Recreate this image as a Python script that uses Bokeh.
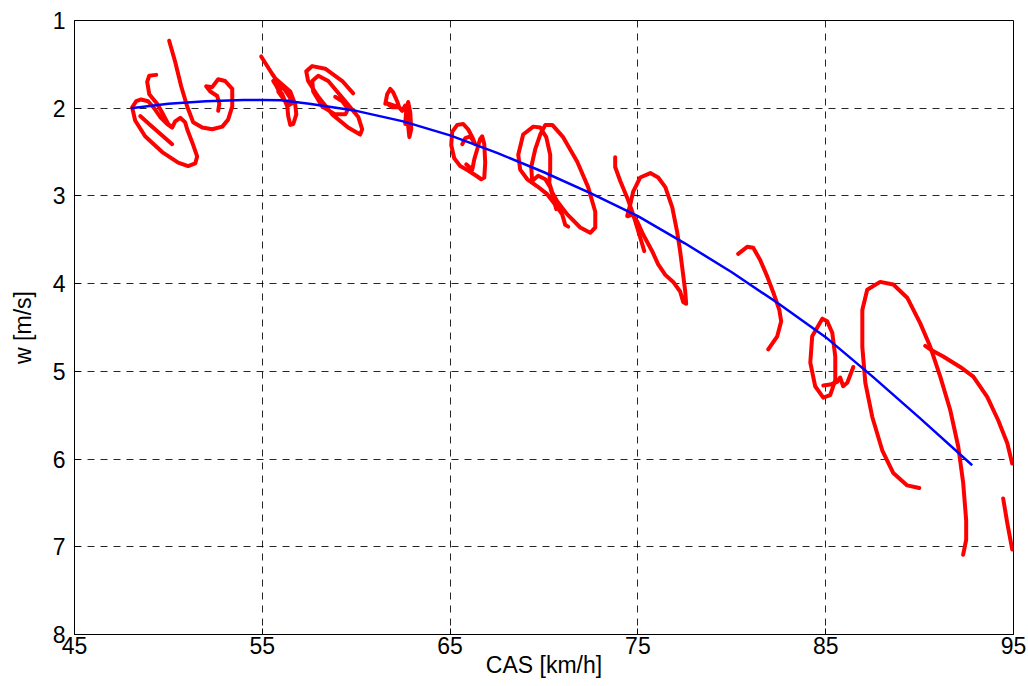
from bokeh.plotting import figure
from bokeh.models import Range1d, FixedTicker
from bokeh.embed import file_html
from bokeh.resources import INLINE

# ---------------- data ----------------
x_ticks = [45, 55, 65, 75, 85, 95]
y_ticks = [1, 2, 3, 4, 5, 6, 7, 8]

# fitted polar (blue)
polar_cas = [48.0, 50, 52, 54, 55, 56, 57.5, 60, 62.5, 65, 67.5, 70, 72.5, 75,
             77.5, 80, 82.5, 85, 87.5, 90, 92.8]
polar_w = [2.00, 1.95, 1.92, 1.905, 1.905, 1.91, 1.95, 2.03, 2.15, 2.31, 2.51,
           2.73, 2.97, 3.23, 3.54, 3.87, 4.23, 4.61, 5.06, 5.53, 6.07]

# measured flight data (red), one list per trace segment
seg1a_cas = [50.04, 50.36, 50.68, 51.00, 51.32, 51.80, 52.33, 52.87, 53.18, 53.40,
             53.40, 53.02, 52.65, 52.33, 52.01, 52.23, 52.60, 52.71, 52.65]
seg1a_w = [1.23, 1.47, 1.75, 1.98, 2.16, 2.22, 2.24, 2.21, 2.13, 1.98,
           1.78, 1.69, 1.67, 1.76, 1.75, 1.81, 1.86, 1.95, 2.03]

seg1b_cas = [49.35, 48.98, 48.87, 48.98, 49.40, 49.72, 49.99, 50.20, 50.36, 50.63,
             50.89, 51.00, 51.27, 51.53, 51.43, 51.05, 50.52, 49.67, 48.76, 48.23,
             48.07, 48.29, 48.55, 48.92, 49.24, 49.56, 49.94, 50.20]
seg1b_w = [1.62, 1.63, 1.70, 1.84, 1.95, 2.07, 2.18, 2.22, 2.15, 2.11,
           2.16, 2.24, 2.39, 2.55, 2.63, 2.66, 2.62, 2.50, 2.32, 2.14,
           1.99, 1.92, 1.90, 1.92, 2.00, 2.10, 2.18, 2.22]

seg1c_cas = [48.50, 49.03, 49.67, 50.20]
seg1c_w = [2.09, 2.19, 2.31, 2.41]

seg2a_cas = [54.94, 55.53, 55.79, 56.11, 56.49, 56.75, 56.81, 56.65, 56.49, 56.38,
             56.33, 56.06, 55.79, 55.58, 55.74, 56.49, 56.70, 56.38, 55.95, 55.74,
             56.16, 56.54, 56.27, 55.85]
seg2a_w = [1.41, 1.61, 1.69, 1.76, 1.84, 1.95, 2.07, 2.18, 2.19, 2.09,
           1.98, 1.84, 1.76, 1.69, 1.67, 1.81, 1.93, 1.97, 1.84, 1.74,
           1.78, 1.90, 1.94, 1.81]

seg2b_cas = [59.84, 59.26, 58.35, 57.66, 57.34, 57.44, 57.98, 58.72, 59.57, 60.21,
             60.32, 60.11, 59.42, 58.51, 57.98, 57.66, 57.71, 58.19, 58.88, 59.42,
             59.57, 59.26, 58.88]
seg2b_w = [1.83, 1.69, 1.55, 1.52, 1.58, 1.69, 1.87, 2.07, 2.22, 2.30,
           2.24, 2.10, 1.92, 1.69, 1.63, 1.69, 1.81, 1.98, 2.07, 2.07,
           2.01, 1.92, 1.87]

seg3_cas = [61.55, 61.65, 61.81, 61.97, 62.18, 62.29, 61.92, 61.60, 62.29, 62.45,
            62.61, 62.72, 62.77, 62.83, 62.93, 62.88, 62.77, 62.67, 62.61]
seg3_w = [1.95, 1.84, 1.78, 1.82, 1.92, 1.99, 1.99, 1.94, 1.99, 2.03,
          1.97, 2.05, 2.21, 2.33, 2.24, 2.05, 1.93, 2.01, 2.18]

seg4_cas = [65.86, 66.18, 66.29, 66.44, 66.60, 66.71, 66.82, 66.87, 66.82, 66.66,
            66.39, 65.96, 65.54, 65.22, 65.06, 65.11, 65.38, 65.70, 65.96, 66.18,
            66.34, 66.07, 65.81, 65.65]
seg4_w = [2.64, 2.70, 2.58, 2.47, 2.35, 2.32, 2.41, 2.62, 2.79, 2.81,
          2.77, 2.71, 2.66, 2.57, 2.42, 2.27, 2.19, 2.18, 2.24, 2.33,
          2.41, 2.32, 2.34, 2.41]

seg5_cas = [71.29, 71.13, 70.97, 70.60, 70.17, 69.64, 69.11, 68.73, 68.63, 68.89,
            69.43, 69.80, 70.12, 70.33, 70.33, 70.28, 70.44, 70.70, 71.24, 71.93,
            72.46, 72.73, 72.73, 72.35, 71.77, 71.02, 70.44, 70.07, 69.80, 69.53,
            69.32, 69.37, 69.69, 70.07, 70.33, 70.49, 70.65]
seg5_w = [3.35, 3.33, 3.21, 3.10, 2.98, 2.89, 2.81, 2.70, 2.53, 2.30,
          2.21, 2.22, 2.33, 2.53, 2.70, 2.85, 2.96, 3.06, 3.21, 3.36,
          3.42, 3.36, 3.18, 2.90, 2.61, 2.33, 2.19, 2.19, 2.30, 2.47,
          2.67, 2.83, 2.77, 2.81, 2.90, 3.02, 3.15]

seg6a_cas = [73.79, 73.79, 74.06, 74.43, 74.70, 74.96, 75.23, 75.34]
seg6a_w = [2.56, 2.67, 2.83, 3.02, 3.18, 3.36, 3.55, 3.63]

seg6b_cas = [74.43, 74.59, 74.75, 75.12, 75.66, 76.08, 76.46, 76.83, 77.09, 77.25,
             77.41, 77.52, 77.57, 77.41, 77.25, 76.88, 76.46, 76.08, 75.76, 75.28,
             74.96, 74.70, 74.48]
seg6b_w = [3.23, 3.10, 2.95, 2.79, 2.74, 2.79, 2.90, 3.13, 3.41, 3.63,
           3.90, 4.09, 4.23, 4.21, 4.09, 3.98, 3.90, 3.78, 3.63, 3.44,
           3.29, 3.21, 3.23]

seg7_cas = [80.34, 80.82, 81.14, 81.51, 81.89, 82.21, 82.53, 82.63, 82.42, 81.94]
seg7_w = [3.66, 3.58, 3.59, 3.73, 3.92, 4.10, 4.30, 4.43, 4.60, 4.75]

seg8a_cas = [84.82, 84.28, 84.18, 84.44, 84.87, 85.24, 85.51, 85.51, 85.35, 85.08, 84.82]
seg8a_w = [4.40, 4.60, 4.90, 5.17, 5.30, 5.27, 5.10, 4.83, 4.56, 4.43, 4.40]

seg8b_cas = [84.87, 85.24, 85.61, 85.77, 85.93, 86.15, 86.47]
seg8b_w = [5.16, 5.15, 5.12, 5.07, 5.17, 5.13, 4.95]

seg9a_cas = [89.98, 89.34, 88.60, 88.01, 87.48, 87.11, 86.95, 86.95, 87.21, 87.90,
             88.60, 89.34, 90.03, 90.57, 91.10, 91.63, 92.06, 92.32, 92.48, 92.48, 92.32]
seg9a_w = [6.33, 6.30, 6.16, 5.90, 5.52, 5.13, 4.72, 4.30, 4.07, 3.98,
           4.01, 4.16, 4.45, 4.72, 5.06, 5.44, 5.86, 6.27, 6.70, 6.92, 7.09]

seg9b_cas = [90.30, 90.57, 91.26, 92.16, 92.86, 93.60, 94.19, 94.67, 94.93]
seg9b_w = [4.71, 4.75, 4.83, 4.95, 5.06, 5.29, 5.56, 5.82, 6.05]

seg9c_cas = [94.45, 94.67, 94.93]
seg9c_w = [6.45, 6.73, 7.03]

red_xs = [seg1a_cas, seg1b_cas, seg1c_cas, seg2a_cas, seg2b_cas, seg3_cas, seg4_cas,
          seg5_cas, seg6a_cas, seg6b_cas, seg7_cas, seg8a_cas, seg8b_cas,
          seg9a_cas, seg9b_cas, seg9c_cas]
red_ys = [seg1a_w, seg1b_w, seg1c_w, seg2a_w, seg2b_w, seg3_w, seg4_w,
          seg5_w, seg6a_w, seg6b_w, seg7_w, seg8a_w, seg8b_w,
          seg9a_w, seg9b_w, seg9c_w]

# ---------------- figure ----------------
FONT = "Liberation Sans"
p = figure(width=1028, height=686, output_backend="svg", toolbar_location=None,
           x_range=Range1d(45, 95), y_range=Range1d(8, 1),
           min_border_left=74, min_border_right=15, min_border_top=20,
           min_border_bottom=52)
p.background_fill_color = "white"
p.border_fill_color = "white"
p.outline_line_color = "black"
p.outline_line_width = 1

for ax in (p.xaxis[0], p.yaxis[0]):
    ax.major_tick_in = 6
    ax.major_tick_out = 0
    ax.minor_tick_line_color = None
    ax.axis_line_color = "black"
    ax.major_tick_line_color = "black"
    ax.major_label_text_font = FONT
    ax.major_label_text_font_size = "23px"
    ax.major_label_text_color = "black"
    ax.axis_label_text_font = FONT
    ax.axis_label_text_font_size = "23px"
    ax.axis_label_text_font_style = "normal"
    ax.axis_label_text_color = "black"

p.xaxis[0].ticker = FixedTicker(ticks=x_ticks)
p.yaxis[0].ticker = FixedTicker(ticks=y_ticks)
p.xaxis[0].axis_label = "CAS [km/h]"
p.yaxis[0].axis_label = "w [m/s]"
p.xaxis[0].major_label_standoff = 2
p.xaxis[0].axis_label_standoff = -5
p.yaxis[0].major_label_standoff = 9
p.yaxis[0].axis_label_standoff = 14

p.xgrid.ticker = FixedTicker(ticks=x_ticks)
p.ygrid.ticker = FixedTicker(ticks=y_ticks)
for g in (p.xgrid[0], p.ygrid[0]):
    g.grid_line_color = "black"
    g.grid_line_alpha = 0.85
    g.grid_line_dash = "7 6"
    g.grid_line_width = 1

p.multi_line(xs=red_xs, ys=red_ys, line_color="#ff0000", line_width=4,
             line_join="round", line_cap="round")
p.line(polar_cas, polar_w, line_color="#0000ff", line_width=2.5)

open("out.html", "w").write(file_html(p, INLINE))
